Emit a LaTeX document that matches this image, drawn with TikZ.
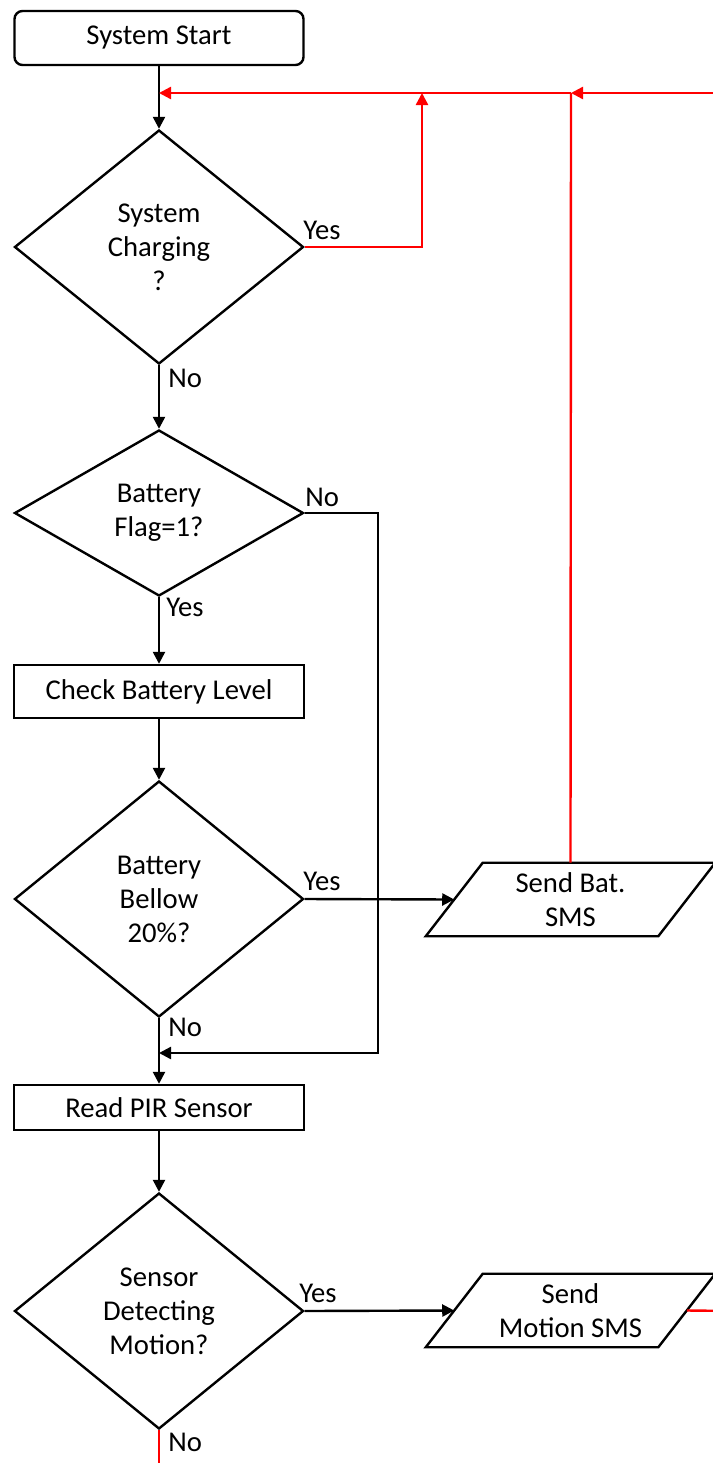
\documentclass[tikz,border=0pt]{standalone}
\usepackage{fontspec}
\setmainfont{Carlito}
\usetikzlibrary{shapes.geometric,arrows.meta,calc}
\begin{document}
\begin{tikzpicture}[x=0.75pt,y=-0.75pt,
  base/.style={font=\fontsize{21.5}{25.5}\selectfont, align=center, inner sep=0pt},
  termbox/.style={base,draw,line width=1.8pt,rounded corners=6pt,minimum width=216.75pt,minimum height=40.5pt},
  procbox/.style={base,draw,line width=1.8pt,minimum width=217.5pt},
  decbox/.style={base,draw,diamond,line width=1.8pt,minimum width=216.75pt},
  iobox/.style={base,minimum width=216.75pt,minimum height=54.75pt},
  lbl/.style={font=\fontsize{21.5}{25}\selectfont,inner sep=0pt,anchor=west},
  blk/.style={line width=1.8pt,-{Triangle[length=9pt,width=9pt]}},
  redarr/.style={draw=red,line width=1.8pt,-{Triangle[length=9pt,width=9pt]}},
  redline/.style={draw=red,line width=1.8pt},
  outline/.style={line width=1.8pt,line join=miter}
]
\useasboundingbox (0,0) rectangle (713,1463);
\clip (0,0) rectangle (713,1463);

% nodes
\node[termbox] (start) at (159,38) {System Start};
\node[decbox,minimum height=175.5pt] (d1) at (159,247) {System\\Charging\\?};
\node[decbox,minimum height=124.5pt] (d2) at (159,513) {Battery\\Flag=1?};
\node[procbox,minimum height=39.75pt] (check) at (159,691.5) {Check Battery Level};
\node[decbox,minimum height=177pt] (d3) at (159,899) {Battery\\Bellow\\20\%?};
\node[procbox,minimum height=33.75pt] (pir) at (159,1107.5) {Read PIR Sensor};
\node[decbox,minimum height=177pt] (d4) at (159,1311) {Sensor\\Detecting\\Motion?};
\node[iobox] (sbat) at (570.5,899.5) {Send Bat.\\SMS};
\node[iobox] (msms) at (570.5,1310.5) {Send\\Motion SMS};

\draw[outline] (sbat.south west) -- ($(sbat.north west)+(57,0)$) -- (sbat.north east) -- ($(sbat.south east)+(-57,0)$) -- cycle;
\draw[outline] (msms.south west) -- ($(msms.north west)+(57,0)$) -- (msms.north east) -- ($(msms.south east)+(-57,0)$) -- cycle;

% coordinates
\coordinate (jtop) at (159,93);
\coordinate (jmid) at (422,93);
\coordinate (jbat) at (571,93);
\coordinate (rin) at (740,93);
\coordinate (jno) at (159,1053);
\coordinate (rout) at (740,1311);
\coordinate (bot) at (159,1480);
\coordinate (sbatin) at ($(sbat.west)+(28.5,0)$);
\coordinate (msmsin) at ($(msms.west)+(28.5,0)$);
\coordinate (msmsout) at ($(msms.east)+(-28.5,0)$);

% black connectors
\draw[blk] (start.south) -- (d1.north);
\draw[blk] (d1.south) -- (d2.north);
\draw[blk] (d2.south) -- (check.north);
\draw[blk] (check.south) -- (d3.north);
\draw[blk] (d3.south) -- (pir.north);
\draw[blk] (pir.south) -- (d4.north);
\draw[blk] (d2.east) -- (378,513) -- (378,1053) -- (jno);
\draw[blk] (d3.east) -- (sbatin);
\draw[blk] (d4.east) -- (msmsin);

% red connectors
\draw[redarr] (rin) -- (jbat);
\draw[redarr] (jbat) -- (jtop);
\draw[redline] (sbat.north) -- (jbat);
\draw[redarr] (d1.east) -- (422,247) -- (jmid);
\draw[redarr] (msmsout) -- (rout);
\draw[redline] (d4.south) -- (bot);

% labels
\node[lbl] (l1) at (303,230) {Yes};
\node[lbl] (l2) at (168,378) {No};
\node[lbl] (l3) at (305,497) {No};
\node[lbl] (l4) at (166,607) {Yes};
\node[lbl] (l5) at (303,881) {Yes};
\node[lbl] (l6) at (168,1027) {No};
\node[lbl] (l7) at (299,1293) {Yes};
\node[lbl] (l8) at (168,1442) {No};
\end{tikzpicture}
\end{document}
